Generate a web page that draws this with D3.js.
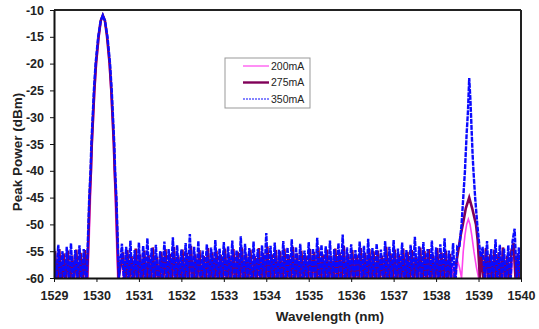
<!DOCTYPE html>
<html>
<head>
<meta charset="utf-8">
<script src="https://cdn.jsdelivr.net/npm/d3@7"></script>
<style>
  body { margin: 0; background: #fff; }
  svg { display: block; font-family: "Liberation Sans", Arial, sans-serif; }
</style>
</head>
<body>
<div id="chart"></div>
<script>
// axis ticks
var xTicks = [1529, 1530, 1531, 1532, 1533, 1534, 1535, 1536, 1537, 1538, 1539, 1540];
var yTicks = [-10, -15, -20, -25, -30, -35, -40, -45, -50, -55, -60];

var seriesNames = ["200mA", "275mA", "350mA"];

// noise floor sampled every 0.05 nm in three stretches (A before line 1, B between, C after line 2)
// the trace dips below the -60 dBm bottom of the plot and is clipped there
var gridStep = 0.05;
var noiseStarts_200 = [1529.00, 1530.60, 1539.10];
var noiseStarts_275 = [1529.025, 1530.625, 1539.075];
var noiseStarts_350 = [1529.00, 1530.60, 1539.10];

var noiseA_200 = [-56.5,-62.0,-55.9,-61.0,-57.2,-62.0,-56.3,-60.7,-57.0,-62.0,-56.1,-61.4,-57.4,-62.0,-56.6,-60.9];
var noiseA_275 = [-55.0,-61.8,-54.6,-62.0,-55.4,-60.9,-54.9,-61.4,-55.8,-60.2,-54.7,-62.0,-55.3,-60.6,-54.8,-61.7];
var noiseA_350 = [-54.5,-61.5,-53.8,-60.2,-55.0,-62.0,-54.2,-60.6,-53.5,-61.8,-54.8,-60.5,-53.9,-62.0,-54.6,-60.9];

var noiseB_200 = [
  -56.8,-62.0,-56.2,-61.3,-57.5,-62.0,-56.0,-60.8,-57.1,-62.0,
  -56.4,-61.2,-57.6,-62.0,-55.8,-60.6,-57.0,-62.0,-56.7,-61.5,
  -56.1,-62.0,-57.3,-60.9,-55.9,-62.0,-56.9,-61.1,-57.4,-62.0,
  -56.3,-60.7,-55.6,-62.0,-57.2,-61.4,-56.5,-62.0,-57.7,-60.8,
  -56.0,-62.0,-56.8,-61.0,-57.3,-62.0,-55.9,-60.5,-56.6,-62.0,
  -57.5,-61.3,-56.2,-62.0,-56.9,-60.7,-55.7,-62.0,-57.1,-61.2,
  -56.4,-62.0,-57.6,-60.9,-56.0,-62.0,-56.8,-61.5,-55.8,-62.0,
  -57.2,-60.6,-56.3,-62.0,-57.0,-61.1,-56.5,-62.0,-57.4,-60.8,
  -55.9,-62.0,-56.7,-61.3,-57.3,-62.0,-56.1,-60.7,-56.9,-62.0,
  -57.6,-61.0,-56.2,-62.0,-56.6,-60.9,-55.8,-62.0,-57.0,-61.4,
  -56.4,-62.0,-57.5,-60.6,-56.0,-62.0,-56.8,-61.2,-57.2,-62.0,
  -55.7,-60.8,-56.9,-62.0,-57.4,-61.5,-56.3,-62.0,-56.6,-60.7,
  -57.1,-62.0,-56.0,-61.1,-56.7,-62.0,-57.3,-60.9,-55.9,-62.0,
  -56.5,-61.3,-57.6,-62.0,-56.2,-60.6,-56.9,-62.0,-57.0,-61.0,
  -56.1,-62.0,-57.4,-60.8,-55.8,-62.0,-56.8,-61.4,-57.2,-62.0,
  -56.4,-60.7,-57.0,-62.0,-56.3,-61.2,-57.5,-62.0,-56.6];
var noiseB_275 = [
  -55.2,-61.4,-54.8,-60.1,-55.9,-62.0,-54.5,-60.7,-55.6,-61.2,
  -54.9,-60.9,-55.7,-62.0,-54.3,-60.5,-56.0,-61.6,-55.1,-60.2,
  -54.6,-62.0,-55.5,-60.8,-54.2,-61.3,-55.8,-60.8,-54.7,-62.0,
  -55.3,-60.4,-54.0,-61.8,-55.6,-60.0,-54.8,-62.0,-55.9,-60.9,
  -54.4,-61.5,-55.2,-60.7,-54.9,-62.0,-55.7,-60.6,-54.5,-61.1,
  -55.8,-60.3,-54.6,-62.0,-55.1,-60.9,-54.3,-61.7,-55.5,-60.5,
  -54.7,-62.0,-55.9,-60.2,-54.4,-61.4,-55.3,-60.8,-54.1,-62.0,
  -55.6,-60.7,-54.8,-61.2,-55.0,-62.0,-54.5,-60.1,-55.7,-61.6,
  -54.2,-60.9,-55.4,-62.0,-54.9,-60.4,-55.8,-61.3,-54.6,-60.0,
  -55.1,-62.0,-54.3,-60.8,-55.6,-61.5,-54.7,-60.7,-55.9,-62.0,
  -54.5,-60.3,-55.2,-61.1,-54.0,-62.0,-55.5,-60.6,-54.8,-61.8,
  -55.7,-60.0,-54.4,-62.0,-55.3,-61.0,-54.6,-60.9,-55.0,-62.0,
  -54.9,-60.5,-55.8,-61.4,-54.2,-62.0,-55.4,-60.2,-54.7,-61.7,
  -55.6,-60.8,-54.5,-62.0,-55.1,-60.9,-54.8,-61.3,-55.9,-60.1,
  -54.3,-62.0,-55.0,-60.4,-54.6,-61.6,-55.7,-60.9,-54.4,-62.0,
  -55.2,-60.6,-54.9,-61.2,-55.5,-62.0];
var noiseB_350 = [
  -53.6,-61.0,-54.2,-60.8,-53.0,-62.0,-54.8,-60.4,-53.4,-61.6,
  -54.0,-60.5,-52.6,-61.2,-54.4,-60.8,-53.8,-62.0,-55.0,-60.9,
  -53.2,-61.4,-54.6,-60.5,-52.4,-61.8,-53.9,-60.6,-54.7,-62.0,
  -53.5,-60.6,-51.8,-61.3,-54.2,-60.7,-53.1,-62.0,-54.9,-60.3,
  -53.7,-61.7,-54.3,-60.9,-52.9,-61.1,-54.5,-60.7,-53.3,-62.0,
  -54.1,-60.4,-53.0,-61.5,-54.8,-60.6,-52.2,-61.9,-53.6,-60.5,
  -54.4,-62.0,-53.2,-60.8,-54.6,-61.2,-53.9,-60.4,-51.6,-61.6,
  -54.0,-60.6,-53.4,-62.0,-54.7,-60.9,-53.1,-61.3,-54.3,-60.9,
  -52.8,-61.8,-54.2,-60.5,-53.6,-62.0,-54.9,-60.5,-53.3,-61.1,
  -54.5,-60.6,-52.5,-61.7,-53.8,-60.8,-54.1,-62.0,-53.0,-60.8,
  -54.6,-61.4,-53.5,-60.7,-51.9,-62.0,-54.3,-60.3,-53.7,-61.5,
  -54.8,-60.9,-53.2,-61.0,-54.0,-62.0,-52.7,-60.6,-54.4,-61.7,
  -53.6,-60.6,-54.7,-61.3,-53.1,-62.0,-54.2,-60.5,-52.9,-61.8,
  -54.5,-60.4,-53.4,-62.0,-54.8,-60.7,-53.8,-61.2,-52.3,-60.6,
  -54.1,-61.9,-53.3,-60.8,-54.6,-62.0,-53.0,-60.4,-54.3,-61.4,
  -53.7,-60.9,-52.6,-61.6,-54.9,-60.2,-53.5,-62.0,-54.0];

var noiseC_200 = [-56.9,-62.0,-56.2,-61.1,-57.3,-62.0,-56.0,-60.8,-56.7,-62.0,-57.4,-61.3,-56.1,-62.0,-56.8,-55.5,-61.0,-57.1,-62.0];
var noiseC_275 = [-55.1,-61.3,-54.4,-60.0,-55.6,-62.0,-54.7,-60.6,-55.2,-61.5,-54.3,-60.9,-55.8,-62.0,-54.9,-53.5,-60.8,-55.4,-62.0,-55.0];
var noiseC_350 = [-54.2,-60.8,-53.1,-62.0,-54.6,-60.7,-52.8,-61.4,-53.8,-60.3,-54.5,-62.0,-53.9,-61.0,-53.2,-50.8,-60.5,-54.3,-61.6];

// laser lines: [wavelength, dBm]
var peak1_200 = [[1529.80,-60],[1529.82,-55],[1529.84,-50],[1529.86,-45],[1529.88,-40],[1529.90,-35],[1529.93,-30],[1529.96,-25],[1530.00,-20],[1530.06,-15],[1530.11,-12],[1530.15,-11],
                 [1530.20,-12],[1530.25,-15],[1530.30,-20],[1530.34,-25],[1530.37,-30],[1530.40,-35],[1530.42,-40],[1530.44,-45],[1530.46,-50],[1530.48,-55],[1530.50,-60]];
var peak1_275 = [[1529.78,-60],[1529.80,-55],[1529.82,-50],[1529.84,-45],[1529.87,-40],[1529.89,-35],[1529.92,-30],[1529.95,-25],[1529.99,-20],[1530.05,-15],[1530.10,-12],[1530.15,-11],
                 [1530.20,-12],[1530.25,-15],[1530.31,-20],[1530.35,-25],[1530.38,-30],[1530.41,-35],[1530.43,-40],[1530.46,-45],[1530.48,-50],[1530.50,-55],[1530.52,-60]];
var peak1_350 = [[1529.77,-60],[1529.79,-55],[1529.81,-50],[1529.83,-45],[1529.86,-40],[1529.88,-35],[1529.91,-30],[1529.94,-25],[1529.98,-20],[1530.04,-15],[1530.10,-12],[1530.15,-11],
                 [1530.20,-12],[1530.26,-15],[1530.32,-20],[1530.36,-25],[1530.39,-30],[1530.42,-35],[1530.44,-40],[1530.47,-45],[1530.49,-50],[1530.51,-55],[1530.53,-60]];

var peak2_200 = [[1538.55,-58],[1538.60,-60],[1538.64,-55],[1538.68,-52],[1538.72,-50],[1538.76,-49],[1538.80,-50],[1538.84,-52],[1538.89,-55],[1538.95,-58],[1539.00,-60],[1539.05,-58]];
var peak2_275 = [[1538.43,-60],[1538.48,-57],[1538.52,-55],[1538.58,-52],[1538.63,-50],[1538.70,-47],[1538.78,-45],[1538.85,-47],[1538.94,-50],[1538.98,-53],[1539.01,-57],[1539.03,-60],[1539.05,-58]];
var peak2_350 = [[1538.55,-54],[1538.60,-50],[1538.64,-45],[1538.68,-40],[1538.72,-33],[1538.75,-29],[1538.78,-22.7],[1538.81,-27],[1538.83,-31],[1538.86,-37],[1538.88,-40],[1538.92,-45],[1538.97,-50],[1539.02,-54],[1539.05,-56]];

var seriesColors = ["#ff44ee", "#800058", "#0a0aff"];

// set the dimensions and margins of the graph
var margin = { top: 10, right: 18, bottom: 51, left: 54 },
    width = 539 - margin.left - margin.right,
    height = 329 - margin.top - margin.bottom;

var svg = d3.select("#chart")
  .append("svg")
  .attr("width", 539)
  .attr("height", 329)
  .append("g")
  .attr("transform", "translate(" + margin.left + "," + margin.top + ")");

var x = d3.scaleLinear().domain([1529, 1540]).range([0, width]);
var y = d3.scaleLinear().domain([-60, -10]).range([height, 0]);

function noisePoints(start, values) {
  return values.map(function(v, i) { return [start + i * gridStep, v]; });
}

function buildSeries(starts, nA, p1, nB, p2, nC) {
  return noisePoints(starts[0], nA)
    .concat(p1)
    .concat(noisePoints(starts[1], nB))
    .concat(p2)
    .concat(noisePoints(starts[2], nC));
}

var allSeries = [
  buildSeries(noiseStarts_200, noiseA_200, peak1_200, noiseB_200, peak2_200, noiseC_200),
  buildSeries(noiseStarts_275, noiseA_275, peak1_275, noiseB_275, peak2_275, noiseC_275),
  buildSeries(noiseStarts_350, noiseA_350, peak1_350, noiseB_350, peak2_350, noiseC_350)
];

var line = d3.line()
  .x(function(d) { return x(d[0]); })
  .y(function(d) { return y(d[1]); });

svg.append("defs").append("clipPath").attr("id", "clip")
  .append("rect").attr("width", width).attr("height", height);

var plot = svg.append("g").attr("clip-path", "url(#clip)");

plot.append("path")
  .datum(allSeries[0])
  .attr("d", line)
  .attr("fill", "none")
  .attr("stroke", seriesColors[0])
  .attr("stroke-width", 1.6);

plot.append("path")
  .datum(allSeries[1])
  .attr("d", line)
  .attr("fill", "none")
  .attr("stroke", seriesColors[1])
  .attr("stroke-width", 2.6);

plot.append("path")
  .datum(allSeries[2])
  .attr("d", line)
  .attr("fill", "none")
  .attr("stroke", seriesColors[2])
  .attr("stroke-width", 2.4)
  .attr("stroke-dasharray", "5,1");

// frame (top and right)
svg.append("line").attr("x1", 0).attr("x2", width).attr("y1", 0).attr("y2", 0)
  .attr("stroke", "#222").attr("stroke-width", 2);
svg.append("line").attr("x1", width).attr("x2", width).attr("y1", 0).attr("y2", height)
  .attr("stroke", "#222").attr("stroke-width", 2);

// Add X axis
var xAxis = svg.append("g")
  .attr("transform", "translate(0," + height + ")")
  .call(d3.axisBottom(x).tickValues(xTicks).tickFormat(d3.format("d")).tickSizeInner(4).tickSizeOuter(0).tickPadding(9));

// Add Y axis
var yAxis = svg.append("g")
  .call(d3.axisLeft(y).tickValues(yTicks).tickSizeInner(4).tickSizeOuter(0).tickPadding(6));

[xAxis, yAxis].forEach(function(a) {
  a.select(".domain").attr("stroke", "#111").attr("stroke-width", 2);
  a.selectAll(".tick line").attr("stroke", "#111").attr("stroke-width", 1);
  a.selectAll(".tick text")
    .attr("fill", "#222")
    .style("font-size", "12.5px")
    .style("font-weight", "bold");
});
yAxis.selectAll(".tick text").text(function(d) { return d; });

// axis titles
svg.append("text")
  .attr("x", x(1535.5))
  .attr("y", height + 43)
  .attr("text-anchor", "middle")
  .style("font-size", "13.5px")
  .style("font-weight", "bold")
  .attr("fill", "#222")
  .text("Wavelength (nm)");

svg.append("text")
  .attr("transform", "translate(" + (-32) + "," + (142) + ") rotate(-90)")
  .attr("text-anchor", "middle")
  .style("font-size", "13.5px")
  .style("font-weight", "bold")
  .attr("fill", "#222")
  .text("Peak Power (dBm)");

// legend
var legend = svg.append("g").attr("transform", "translate(" + (171) + "," + (48) + ")");
legend.append("rect")
  .attr("width", 85).attr("height", 50)
  .attr("fill", "#fff")
  .attr("stroke", "#999")
  .attr("stroke-width", 1);

var legendWidths = [1.2, 2.4, 1.2];
seriesNames.forEach(function(name, i) {
  var row = legend.append("g").attr("transform", "translate(0," + (8 + i * 16.5) + ")");
  row.append("line")
    .attr("x1", 18).attr("x2", 44)
    .attr("stroke", seriesColors[i])
    .attr("stroke-width", legendWidths[i])
    .attr("stroke-dasharray", i === 2 ? "2,1" : null);
  row.append("text")
    .attr("x", 46)
    .attr("y", 0)
    .attr("dy", "0.35em")
    .style("font-size", "10.5px")
    .attr("fill", "#222")
    .text(name);
});
</script>
</body>
</html>
